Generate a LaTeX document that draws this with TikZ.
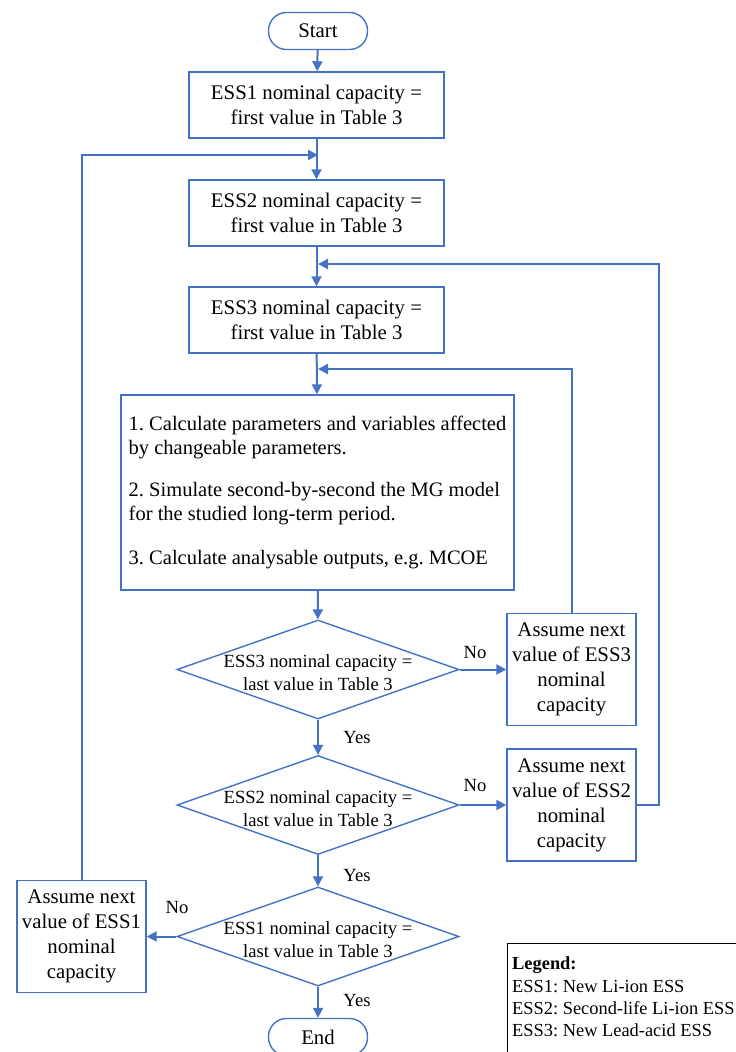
\documentclass[tikz,border=0pt]{standalone}
\usepackage{fontspec}
\setmainfont{Liberation Serif}
\usetikzlibrary{shapes.geometric,arrows.meta}
\definecolor{flowblue}{HTML}{4472C4}
\frenchspacing

\begin{document}
\begin{tikzpicture}[x=1pt,y=-1pt,
	every node/.style={font=\fontsize{20.8}{25}\selectfont, text=black},
	box/.style={draw=flowblue, line width=1.4pt, align=center, inner sep=0pt},
	term/.style={box, rounded corners=18pt, minimum width=99pt, minimum height=37pt},
	proc/.style={box, minimum width=255pt, minimum height=66pt},
	decision/.style={diamond, draw=flowblue, line width=1.4pt, minimum width=282pt, minimum height=99pt, inner sep=0pt},
	dtext/.style={align=center, font=\fontsize{18.6}{23}\selectfont},
	nextbox/.style={box, minimum width=129pt, minimum height=112pt},
	arr/.style={draw=flowblue, line width=2pt, -{Triangle[length=10pt,width=10pt]}},
	lbl/.style={font=\fontsize{18.6}{22}\selectfont}]
\useasboundingbox (0,0) rectangle (736,1052);

		\node[term] (start) at (318,31) {Start};
		\node[proc] (ess1) at (316.5,105) {ESS1 nominal capacity =\\ first value in Table 3};
		\node[proc] (ess2) at (316.5,213) {ESS2 nominal capacity =\\ first value in Table 3};
		\node[proc] (ess3) at (316.5,320) {ESS3 nominal capacity =\\ first value in Table 3};
		\node[box, minimum width=393pt, minimum height=195pt, align=left,
			font=\fontsize{20.5}{24}\selectfont] (calc) at (317.5,492.5)
			{1. Calculate parameters and variables affected\\ by changeable parameters.\\[18pt]
			 2. Simulate second-by-second the MG model\\ for the studied long-term period.\\[20pt]
			 3. Calculate analysable outputs, e.g. MCOE};

		\node[decision] (dec3) at (318,669.5) {};
		\node[dtext] (dec3t) at (318,673) {ESS3 nominal capacity =\\ last value in Table 3};
		\node[decision] (dec2) at (318,805) {};
		\node[dtext] (dec2t) at (318,808.5) {ESS2 nominal capacity =\\ last value in Table 3};
		\node[decision] (dec1) at (318,936.5) {};
		\node[dtext] (dec1t) at (318,940) {ESS1 nominal capacity =\\ last value in Table 3};

		\node[nextbox] (next3) at (571.5,669.5) {Assume next\\ value of ESS3\\ nominal\\ capacity};
		\node[nextbox] (next2) at (571.5,805) {Assume next\\ value of ESS2\\ nominal\\ capacity};
		\node[nextbox] (next1) at (81.5,936.5) {Assume next\\ value of ESS1\\ nominal\\ capacity};

		\node[term] (finish) at (318,1037) {End};

		\coordinate (j1) at (318,155);
		\coordinate (j2) at (318,264);
		\coordinate (j3) at (318,369);

\draw[arr] (start) -- (ess1);
\draw[arr] (ess1) -- (ess2);
\draw[arr] (ess2) -- (ess3);
\draw[arr] (ess3) -- (calc);
\draw[arr] (calc) -- (dec3);

\draw[arr] (dec3) -- (next3);
\draw[arr] (dec3) -- (dec2);
\draw[arr] (dec2) -- (next2);
\draw[arr] (dec2) -- (dec1);
\draw[arr] (dec1) -- (next1);
\draw[arr] (dec1) -- (finish);

\draw[arr] (next3.north) |- (j3);
\draw[arr] (next2.east) -- ++(22,0) |- (j2);
\draw[arr] (next1.north) |- (j1);

		\node[lbl] (no3) at (475,652) {No};
		\node[lbl] (yes3) at (357,737) {Yes};
		\node[lbl] (no2) at (475,785) {No};
		\node[lbl] (yes2) at (357,875) {Yes};
		\node[lbl] (no1) at (177,907) {No};
		\node[lbl] (yes1) at (357,1000) {Yes};

		% legend
		\draw[black, line width=1pt] (507,943) rectangle (760,1070);
		\node[anchor=north west, align=left, inner sep=0pt, font=\fontsize{18.4}{22.3}\selectfont] (legend) at (512,957)
			{\textbf{Legend:}\\ ESS1: New Li-ion ESS\\ ESS2: Second-life Li-ion ESS\\ ESS3: New Lead-acid ESS};
		\end{tikzpicture}
\end{document}
